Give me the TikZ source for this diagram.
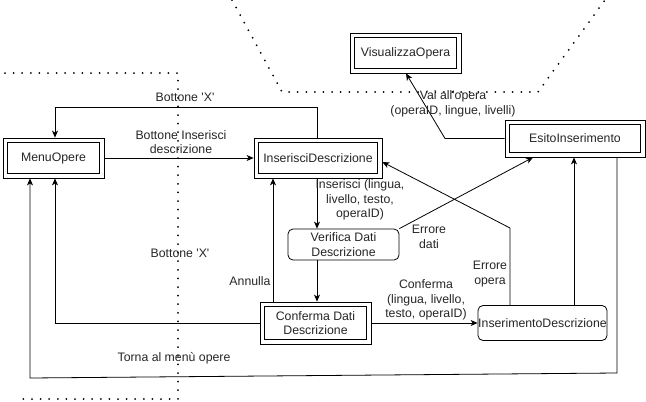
\documentclass[tikz,border=0pt]{standalone}
\usepackage{fontspec}
\setmainfont{Liberation Sans}
\usetikzlibrary{arrows.meta}
\newcommand{\qt}{\textquotesingle}
\begin{document}
\begin{tikzpicture}[x=1pt,y=-1pt,
  every node/.style={font=\fontsize{12.3}{14.5}\selectfont, text=black!85},
  dbl/.style={draw, line width=0.8pt, fill=white, inner sep=0pt, align=center,
    path picture={\draw[line width=0.8pt]
      ([shift={(4.2pt,-4.2pt)}]path picture bounding box.north west) rectangle
      ([shift={(-4.2pt,4.2pt)}]path picture bounding box.south east);}},
  rnd/.style={draw, rounded corners=5pt, line width=0.8pt, fill=white, inner sep=0pt, align=center},
  conn/.style={draw, line width=0.8pt, -{Stealth[length=7pt,width=6pt,inset=2pt]}},
  lab/.style={align=center, inner sep=0pt},
  dotline/.style={line width=2pt, dash pattern=on 0pt off 8.6pt, line cap=round}]
\useasboundingbox (0,0) rectangle (646,402);
% dotted boundaries
\draw[dotline] (5,73) -- (178,73) -- (178,399) -- (20,399);
\draw[dotline] (232,0) -- (282,92) -- (538,92) -- (605,0);
% nodes
\node[dbl, minimum width=101, minimum height=40] (menu) at (53.5,158) {MenuOpere};
\node[dbl, minimum width=128, minimum height=40] (ins) at (318,158) {InserisciDescrizione};
\node[dbl, minimum width=111, minimum height=40] (vis) at (405.5,53) {VisualizzaOpera};
\node[dbl, minimum width=140, minimum height=37] (esito) at (575,138.5) {EsitoInserimento};
\node[rnd, minimum width=111, minimum height=31] (ver) at (343.5,244.5) {Verifica Dati\\Descrizione};
\node[dbl, minimum width=111, minimum height=42] (conf) at (315.5,323) {Conferma Dati\\Descrizione};
\node[rnd, minimum width=129, minimum height=35] (insd) at (542.5,323) {InserimentoDescrizione};
% helper coordinates
\coordinate (cx) at (317,0);
\coordinate (ax) at (273,0);
\coordinate (ex) at (574,0);
\coordinate (eo) at (510,228);
\coordinate (vb) at (445,138.5);
\coordinate (tr) at (617,373);
\coordinate (tl) at (30,378);
% connectors
\draw[conn] (menu.east) -- (ins.west);
\draw[conn] (ins.north -| cx) -- ++(0,-30) -| ([xshift=1.5pt]menu.north);
\draw[conn] (ins.south -| cx) -- (ver.north -| cx);
\draw[conn] (ver.south -| cx) -- (conf.north -| cx);
\draw[conn] (ver.north east) -- ([xshift=-42pt]esito.south);
\draw[conn] (conf.north -| ax) -- (ins.south -| ax);
\draw[conn] (conf.west) -| ([xshift=1.5pt]menu.south);
\draw[conn] (conf.east) -- (insd.west);
\draw[conn] (insd.north -| ex) -- (esito.south -| ex);
\draw[conn] (insd.north -| eo) -- (eo) -- ([yshift=-4pt]ins.east);
\draw[conn] (esito.west) -- (vb) -- ([xshift=0.5pt]vis.south);
\draw[conn] ([xshift=42pt]esito.south) -- (tr) -- (tl) -- ([xshift=-23.5pt]menu.south);
% labels
\node[lab] (l1) at (181,142) {Bottone Inserisci\\descrizione};
\node[lab] (l2) at (185,97) {Bottone \qt X\qt};
\node[lab] (l3) at (360,200) {Inserisci (lingua,\\livello, testo,\\operaID)};
\node[lab] (l4) at (429,237) {Errore\\dati};
\node[lab] (l5) at (250,281) {Annulla};
\node[lab] (l6) at (180,253) {Bottone \qt X\qt};
\node[lab] (l7) at (426,300) {Conferma\\(lingua, livello,\\testo, operaID)};
\node[lab] (l8) at (490,274) {Errore\\opera};
\node[lab] (l9) at (453,104) {Vai all\qt opera\\(operaID, lingue, livelli)};
\node[lab] (l10) at (174,358) {Torna al menù opere};
\end{tikzpicture}
\end{document}
